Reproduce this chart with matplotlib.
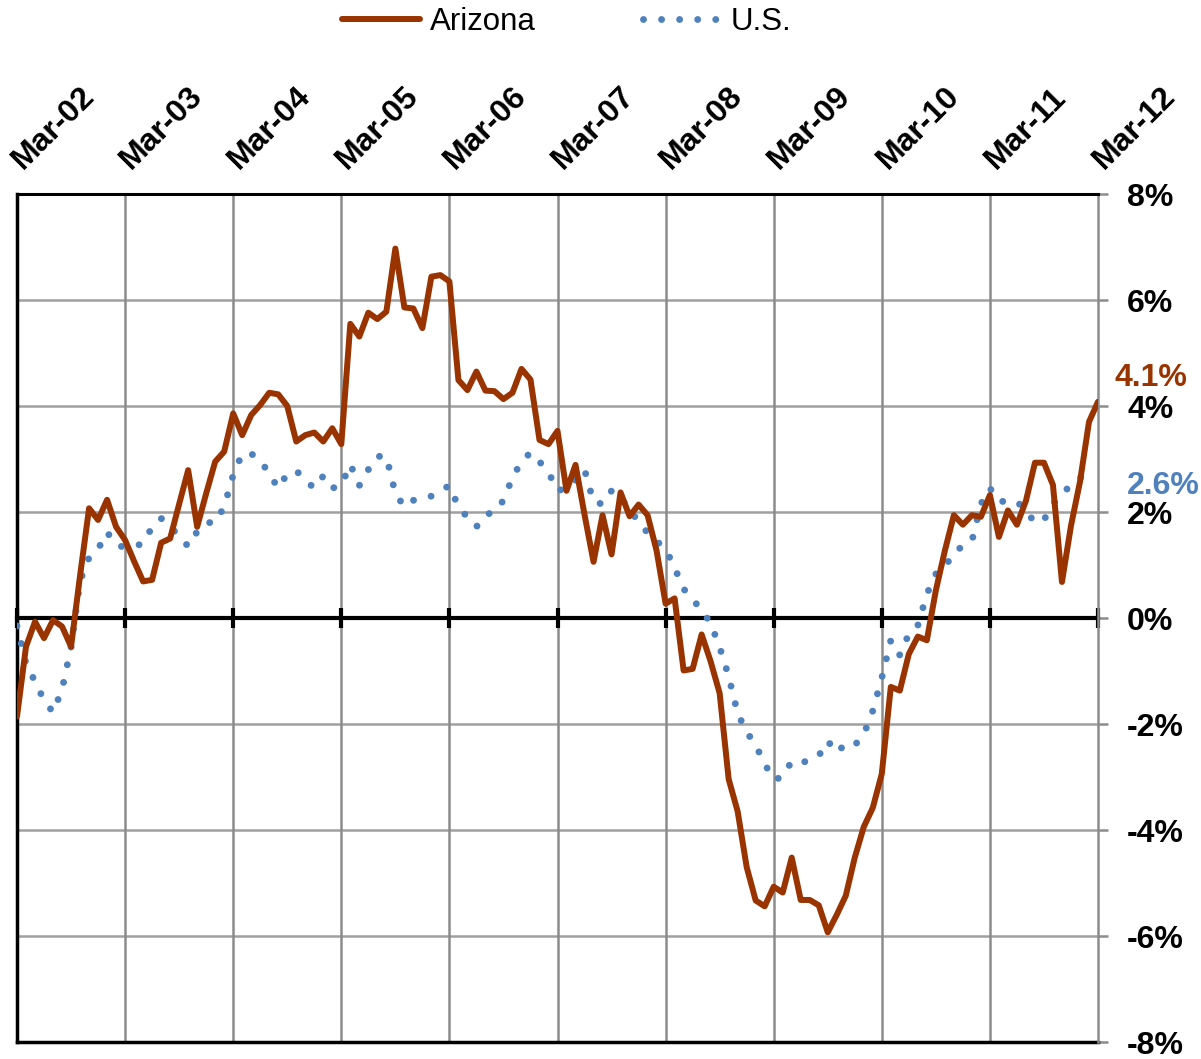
# %%
import matplotlib
matplotlib.use('Agg')
import matplotlib.pyplot as plt
import numpy as np

plt.rcParams['font.family'] = ['Liberation Sans', 'DejaVu Sans']

# %%
# dados mensais, Mar-02 ate Mar-12 (variacao anual em %)
arizona = [-1.86, -0.54, -0.07, -0.38, -0.04, -0.16, -0.54, 0.80, 2.07, 1.85,
           2.23, 1.72, 1.47, 1.07, 0.69, 0.72, 1.42, 1.50, 2.15, 2.79,
           1.72, 2.35, 2.95, 3.14, 3.86, 3.45, 3.83, 4.02, 4.25, 4.22,
           4.00, 3.33, 3.45, 3.50, 3.33, 3.58, 3.28, 5.55, 5.31, 5.76,
           5.64, 5.78, 6.97, 5.86, 5.84, 5.47, 6.44, 6.47, 6.35, 4.49,
           4.30, 4.65, 4.29, 4.28, 4.13, 4.25, 4.70, 4.50, 3.36, 3.28,
           3.53, 2.40, 2.89, 1.95, 1.06, 1.94, 1.20, 2.37, 1.92, 2.14,
           1.94, 1.27, 0.27, 0.37, -0.99, -0.96, -0.31, -0.82, -1.42, -3.04,
           -3.65, -4.70, -5.33, -5.44, -5.07, -5.18, -4.52, -5.32, -5.32, -5.42,
           -5.93, -5.60, -5.24, -4.52, -3.94, -3.58, -2.94, -1.30, -1.37, -0.68,
           -0.35, -0.42, 0.52, 1.27, 1.94, 1.76, 1.94, 1.91, 2.32, 1.53,
           2.03, 1.76, 2.21, 2.93, 2.93, 2.51, 0.68, 1.74, 2.57, 3.70,
           4.08]

us = [-0.15, -0.86, -1.20, -1.55, -1.78, -1.35, -0.55, 0.70, 1.14, 1.30,
      1.62, 1.38, 1.33, 1.36, 1.40, 1.72, 1.88, 1.72, 1.55, 1.35,
      1.63, 1.80, 1.80, 2.10, 2.70, 3.10, 3.10, 2.98, 2.72, 2.45,
      2.72, 2.78, 2.60, 2.45, 2.68, 2.45, 2.50, 2.90, 2.50, 2.80,
      3.05, 3.05, 2.35, 2.10, 2.22, 2.25, 2.30, 2.40, 2.50, 2.10,
      1.90, 1.72, 1.95, 2.00, 2.22, 2.65, 2.95, 3.12, 2.95, 2.75,
      2.40, 2.45, 2.60, 2.80, 2.19, 2.15, 2.40, 2.30, 2.00, 1.85,
      1.60, 1.45, 1.30, 0.95, 0.55, 0.35, 0.15, -0.10, -0.55, -1.10,
      -1.80, -2.15, -2.40, -2.75, -3.05, -3.00, -2.70, -2.72, -2.70, -2.60,
      -2.32, -2.54, -2.37, -2.40, -2.20, -1.75, -1.13, -0.42, -0.70, -0.30,
      -0.14, 0.45, 0.83, 0.95, 1.25, 1.35, 1.45, 2.15, 2.45, 2.20,
      2.20, 2.20, 2.02, 1.80, 1.85, 2.15, 2.35, 2.50, 2.65, 2.65]

year_labels = ['Mar-02', 'Mar-03', 'Mar-04', 'Mar-05', 'Mar-06', 'Mar-07',
               'Mar-08', 'Mar-09', 'Mar-10', 'Mar-11', 'Mar-12']
y_ticks = [8, 6, 4, 2, 0, -2, -4, -6, -8]
y_labels = ['8%', '6%', '4%', '2%', '0%', '-2%', '-4%', '-6%', '-8%']

brown = '#993300'
blue = '#4f81bd'

# %%
fig = plt.figure(figsize=(12.01, 10.59), dpi=100)
ax = fig.add_axes([17 / 1201, 1 - 1042 / 1059, (1098 - 17) / 1201, (1042 - 194) / 1059])

months_az = np.arange(len(arizona))
months_us = np.arange(len(us))
year_pos = np.arange(len(year_labels)) * 12

# grade
for yv in y_ticks:
    ax.axhline(yv, color='#a0a0a0', lw=1.8, zorder=0)
for xv in year_pos[1:-1]:
    ax.axvline(xv, color='#8c8c8c', lw=1.8, zorder=0)

ax.plot(months_us, us, color=blue, lw=5.0, linestyle=(0, (0.001, 2.6)),
        dash_capstyle='round', label='U.S.', zorder=3)
ax.plot(months_az, arizona, color=brown, lw=4.3, solid_capstyle='round',
        solid_joinstyle='round', label='Arizona', zorder=4)

ax.set_xlim(0, 120)
ax.set_ylim(-8, 8)

# eixo x cruzando no zero, com marcas em cada ano
ax.spines['bottom'].set_position(('data', 0))
ax.spines['bottom'].set_linewidth(3)
ax.spines['bottom'].set_zorder(2)
ax.axhline(-8, color='black', lw=2.5, clip_on=False, zorder=2)
ax.spines['top'].set_linewidth(2.2)
ax.spines['left'].set_linewidth(2.5)
ax.spines['right'].set_color('#8c8c8c')
ax.spines['right'].set_linewidth(1.8)

ax.set_xticks(year_pos)
ax.set_xticklabels(year_labels)
ax.tick_params(axis='x', bottom=True, top=False, labelbottom=False, labeltop=True,
               direction='inout', length=14, width=3, color='black', pad=14)
# rotulos do topo: girados 45 graus a partir do lado esquerdo
for tick in ax.xaxis.get_major_ticks():
    tick.label2.set_rotation(45)
    tick.label2.set_rotation_mode('anchor')
    tick.label2.set_horizontalalignment('left')
    tick.label2.set_verticalalignment('center')
    tick.label2.set_fontsize(23)
    tick.label2.set_fontweight('bold')

ax.yaxis.tick_right()
ax.set_yticks(y_ticks)
ax.set_yticklabels(y_labels)
ax.tick_params(axis='y', right=True, left=False, direction='out', length=7,
               width=1.8, color='#8c8c8c', pad=14, labelsize=23)
for lbl in ax.get_yticklabels():
    lbl.set_fontweight('bold')

# rotulos dos ultimos valores
ax.annotate(f'{arizona[-1]:.1f}%', xy=(months_az[-1], arizona[-1]), xytext=(12, 17),
            textcoords='offset points', color=brown, fontsize=23, fontweight='bold',
            ha='left', va='center', annotation_clip=False)
ax.annotate(f'{us[-1]:.1f}%', xy=(months_us[-1], us[-1]), xytext=(27, -6),
            textcoords='offset points', color=blue, fontsize=23, fontweight='bold',
            ha='left', va='center', annotation_clip=False)

handles, labels = ax.get_legend_handles_labels()
fig.legend(handles[::-1], labels[::-1], loc='center', bbox_to_anchor=(0.472, 0.979),
           ncol=2, frameon=False, fontsize=22.5, handlelength=2.5,
           handletextpad=0.32, columnspacing=3.4)

fig.savefig('out.png', dpi=100)
